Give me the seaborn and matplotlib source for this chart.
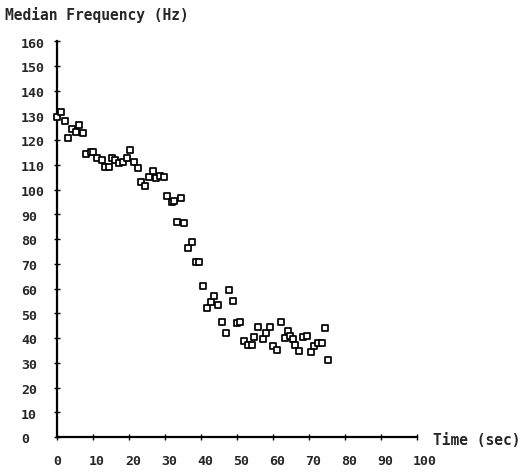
import matplotlib
matplotlib.use('Agg')
import matplotlib.pyplot as plt
import matplotlib.transforms as mtransforms
import seaborn as sns
import pandas as pd

# ---- data ----
time_sec = [0.1, 1.1, 2.2, 3.1, 4.1, 5.3, 6.1, 7.1, 8.1, 9.4,
            10.1, 11.0, 12.4, 13.3, 14.4, 15.2, 16.1, 17.2, 18.4, 19.5,
            20.3, 21.4, 22.4, 23.3, 24.4, 25.6, 26.6, 27.5, 28.6, 29.7,
            30.5, 31.9, 32.5, 34.4, 33.4, 35.4, 36.5, 37.6, 38.5, 39.5,
            40.5, 41.6, 42.8, 43.6, 44.8, 45.9, 46.9, 47.9, 48.8, 49.9,
            50.8, 52.0, 53.1, 54.3, 54.7, 55.9, 57.1, 58.1, 59.2, 60.1,
            61.2, 62.1, 63.3, 64.3, 64.7, 65.5, 66.1, 67.3, 68.2, 69.4,
            70.5, 71.5, 72.6, 73.5, 74.4, 75.4]
median_freq = [129.2, 131.2, 127.8, 120.8, 124.4, 123.4, 126.2, 122.7, 114.3, 115.3,
               115.0, 112.6, 112.0, 109.2, 109.2, 112.6, 112.0, 110.6, 111.0, 112.7,
               116.0, 111.0, 108.7, 102.9, 101.3, 104.9, 107.6, 104.5, 105.3, 104.9,
               97.3, 94.8, 95.5, 96.6, 86.7, 86.3, 76.2, 78.7, 70.6, 70.6,
               61.1, 52.1, 54.4, 56.8, 53.5, 46.6, 41.9, 59.5, 55.1, 45.9,
               46.3, 38.9, 37.3, 37.3, 40.3, 44.3, 39.6, 42.0, 44.3, 36.9,
               35.3, 46.3, 39.9, 43.0, 40.7, 39.6, 37.3, 34.6, 40.5, 40.9,
               34.2, 36.9, 38.0, 38.0, 43.9, 31.2]
x_ticks = [0, 10, 20, 30, 40, 50, 60, 70, 80, 90, 100]
y_ticks = [0, 10, 20, 30, 40, 50, 60, 70, 80, 90, 100, 110, 120, 130, 140, 150, 160]
title_text = "Median Frequency (Hz)"
xlabel_text = "Time (sec)"

sns.set_style('ticks')
plt.rcParams['font.family'] = ['DejaVu Sans Mono', 'DejaVu Sans']

W, H = 531, 477
fig = plt.figure(figsize=(W / 100, H / 100), dpi=100)
ax = fig.add_axes([57 / W, 39 / H, 360 / W, 396 / H])

df = pd.DataFrame({'t': time_sec, 'f': median_freq})
sns.scatterplot(data=df, x='t', y='f', marker='s', s=16, facecolor='white',
                edgecolor='black', linewidth=1.25, ax=ax, clip_on=False, zorder=3,
                legend=False)

ax.set_xlim(0, 100)
ax.set_ylim(0, 160)
ax.set_xlabel('')
ax.set_ylabel('')
for s in ['top', 'right']:
    ax.spines[s].set_visible(False)
for s in ['left', 'bottom']:
    ax.spines[s].set_linewidth(1.6)
    ax.spines[s].set_color('black')

ax.set_xticks(x_ticks)
ax.set_yticks(y_ticks)
ax.set_xticklabels([])
ax.set_yticklabels([])
ax.tick_params(axis='both', direction='inout', length=4, width=1, color='black')

fs = 9.5
# y tick labels (left aligned at fixed x)
ytrans = mtransforms.blended_transform_factory(fig.transFigure, ax.transData)
ytrans = mtransforms.offset_copy(ytrans, fig=fig, x=0, y=-2, units='dots')
for v in y_ticks:
    ax.text(21 / W, v, str(v), transform=ytrans, ha='left', va='center',
            fontsize=fs, fontweight='bold', clip_on=False)

# x tick labels
xtrans = mtransforms.blended_transform_factory(ax.transData, fig.transFigure)
xtrans = mtransforms.offset_copy(xtrans, fig=fig, x=-4, y=0, units='dots')
for v in x_ticks:
    ax.text(v, 1 - 462 / H, str(v), transform=xtrans, ha='left', va='center',
            fontsize=fs, fontweight='bold', clip_on=False)

fig.text(5 / W, 1 - 15 / H, title_text, ha='left', va='center',
         fontsize=10.5, fontweight='bold')
fig.text(433 / W, 1 - 441 / H, xlabel_text, ha='left', va='center',
         fontsize=10.5, fontweight='bold')

fig.savefig('out.png', dpi=100, facecolor='white')
